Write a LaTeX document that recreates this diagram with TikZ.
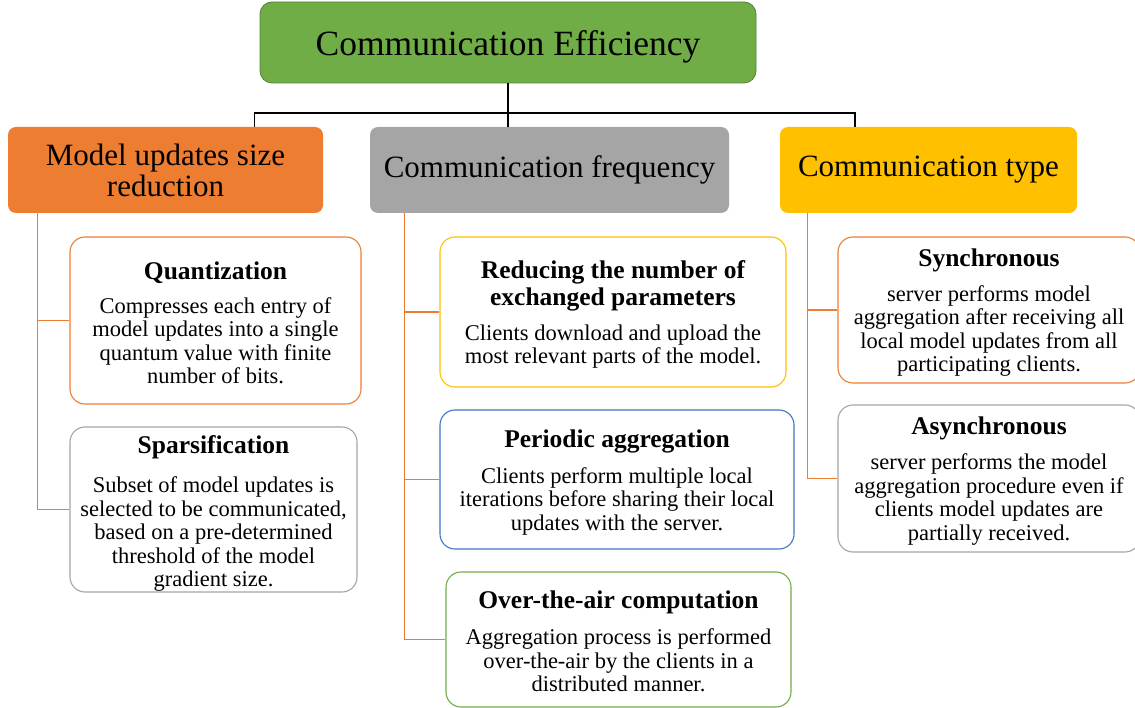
\documentclass[tikz,border=0pt]{standalone}
\usepackage{fontspec}
\setmainfont{Liberation Serif}
\definecolor{cOrange}{HTML}{ED7D31}
\definecolor{cGray}{HTML}{A5A5A5}
\definecolor{cYellow}{HTML}{FFC000}
\definecolor{cBlue}{HTML}{4472C4}
\definecolor{cGreen}{HTML}{70AD47}
\definecolor{cGreenD}{HTML}{548235}
\tikzset{
  topbox/.style={draw=cGreenD, fill=cGreen, line width=0.8pt, rounded corners=12pt, inner sep=0pt, align=center, font=\fontsize{35.5}{40}\selectfont},
  catbox/.style={fill=#1, rounded corners=8pt, inner sep=0pt, align=center, minimum height=86pt, font=\fontsize{31}{31}\selectfont},
  leafbox/.style={draw=#1, fill=white, line width=1.1pt, rounded corners=15pt, inner sep=0pt, align=center, font=\fontsize{22.5}{23.5}\selectfont},
  tree/.style={draw=black, line width=1.6pt},
  conn/.style={draw=cOrange, line width=1.2pt},
}
\newcommand{\ttl}[1]{{\fontsize{25.5}{27}\selectfont\bfseries #1}}
\begin{document}
\begin{tikzpicture}[x=1pt,y=-1pt]
\useasboundingbox (0,0) rectangle (1135,708);
% top
\node[topbox, minimum width=496pt, minimum height=81pt, text depth=2pt] (top) at (508,42.5) {\raisebox{-4pt}{Communication Efficiency}};
% categories
\node[catbox=cOrange, minimum width=315pt] (mus) at (165.5,170) {Model updates size\\reduction};
\node[catbox=cGray, minimum width=359pt] (cf) at (549.5,170) {Communication frequency};
\node[catbox=cYellow, minimum width=297pt] (ct) at (928.5,170) {Communication type};
% leaves
\node[leafbox=cOrange, minimum width=291pt, minimum height=167pt] (quant) at (215.5,320.5)
  {\rule{0pt}{22pt}\ttl{Quantization}\\[10.5pt]Compresses each entry of\\model updates into a single\\quantum value with finite\\number of bits.};
\node[leafbox=cGray, minimum width=287pt, minimum height=165pt] (spars) at (213.5,509.5)
  {\rule{0pt}{26pt}\ttl{Sparsification}\\[16pt]Subset of model updates is\\selected to be communicated,\\based on a pre-determined\\threshold of the model\\gradient size.};
\node[leafbox=cYellow, minimum width=346pt, minimum height=150pt] (red) at (613,312)
  {\rule{0pt}{23pt}\ttl{Reducing the number of}\\[3.5pt]\ttl{exchanged parameters}\\[11pt]Clients download and upload the\\most relevant parts of the model.};
\node[leafbox=cBlue, minimum width=354pt, minimum height=139pt] (per) at (617,479.5)
  {\rule{0pt}{23pt}\ttl{Periodic aggregation}\\[12.5pt]Clients perform multiple local\\iterations before sharing their local\\updates with the server.};
\node[leafbox=cGreen, minimum width=345pt, minimum height=135pt] (ota) at (618.5,639.5)
  {\rule{0pt}{22pt}\ttl{Over-the-air computation}\\[12.5pt]Aggregation process is performed\\over-the-air by the clients in a\\distributed manner.};
\node[leafbox=cOrange, minimum width=302pt, minimum height=146pt] (sync) at (989,310)
  {\rule{0pt}{23pt}\ttl{Synchronous}\\[11.5pt]server performs model\\aggregation after receiving all\\local model updates from all\\participating clients.};
\node[leafbox=cGray, minimum width=302pt, minimum height=147pt] (async) at (989,478.5)
  {\rule{0pt}{23pt}\ttl{Asynchronous}\\[11.5pt]server performs the model\\aggregation procedure even if\\clients model updates are\\partially received.};
% tree
\draw[tree] ([xshift=89pt]mus.north) -- ++(0,-14) -| (top.south);
\draw[tree] ([xshift=-73.5pt]ct.north) -- ++(0,-14) -| (top.south);
\draw[tree] (top.south) -- (top.south |- cf.north);
% orange connectors
\draw[conn] ([xshift=30pt]mus.south west) |- (quant.west);
\draw[conn] ([xshift=30pt]mus.south west) |- (spars.west);
\draw[conn] ([xshift=35pt]cf.south west) |- (red.west);
\draw[conn] ([xshift=35pt]cf.south west) |- (per.west);
\draw[conn] ([xshift=35pt]cf.south west) |- (ota.west);
\draw[conn] ([xshift=28pt]ct.south west) |- (sync.west);
\draw[conn] ([xshift=28pt]ct.south west) |- (async.west);
\end{tikzpicture}
\end{document}
